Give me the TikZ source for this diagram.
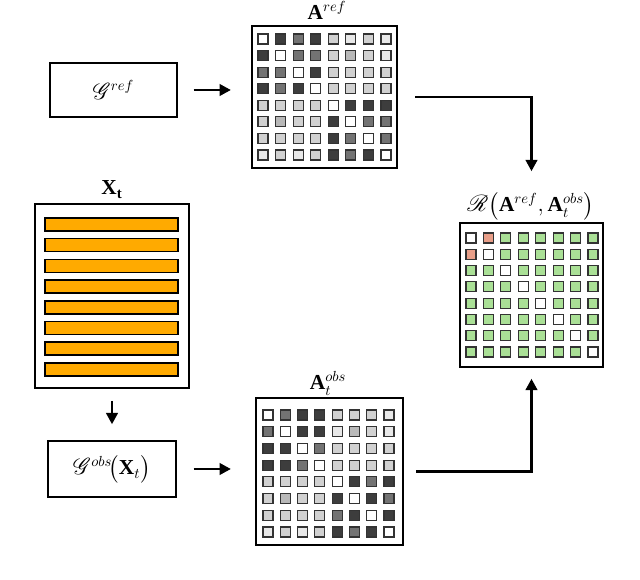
\documentclass[tikz,border=0pt]{standalone}
\usepackage{amsmath}
\usepackage{mathrsfs}
\usepackage{fontspec}
\setmainfont{Liberation Serif}
\usetikzlibrary{arrows.meta,calc}
\definecolor{cw}{gray}{1}
\definecolor{cv}{gray}{0.91}
\definecolor{cl}{gray}{0.82}
\definecolor{ck}{gray}{0.72}
\definecolor{cm}{gray}{0.45}
\definecolor{cd}{gray}{0.24}
\definecolor{cg}{RGB}{170,224,150}
\definecolor{cs}{RGB}{232,158,136}
\definecolor{orangebar}{RGB}{255,170,0}
\newcommand{\cellgrid}[5]{%
  \foreach \row [count=\i from 0] in {#5} {
    \foreach \v [count=\j from 0] in \row {
      \draw[cell,fill=\v] ({#1+\j*#3},{#2+\i*#4}) rectangle +(10,10);
    }
  }}
\begin{document}
\begin{tikzpicture}[x=0.75pt,y=-0.75pt,
  arr/.style={line width=2.2pt,-{Triangle[length=8.5pt,width=8.5pt]}},
  gbox/.style={draw,line width=1pt,inner sep=0,font=\fontsize{16}{19}\selectfont},
  mat/.style={draw,line width=1.6pt,inner sep=0},
  cell/.style={draw=black!80,line width=0.9pt},
  lbl/.style={inner sep=0,font=\fontsize{16}{19}\selectfont},
  bar/.style={draw,line width=1.1pt,fill=orangebar}]
\useasboundingbox (0,0) rectangle (640,580);

% boxes
\node[gbox,minimum width=95.25pt,minimum height=40.5pt] (gref) at (113.5,90) {$\mathscr{G}^{ref}$};
\node[gbox,minimum width=96pt,minimum height=42pt] (gobs) at (112,469) {$\mathscr{G}^{obs}\!\big(\mathbf{X}_t\big)$};
\node[draw,line width=1.2pt,inner sep=0,minimum width=115.5pt,minimum height=138pt] (xt) at (112,296) {};
\node[mat,minimum width=108.75pt,minimum height=106.5pt] (aref) at (324.5,97) {};
\node[mat,minimum width=107.25pt,minimum height=108pt] (rmat) at (531.5,295) {};
\node[mat,minimum width=110.25pt,minimum height=110.25pt] (aobs) at (329.5,471.5) {};

% labels
\node[lbl,anchor=base] (lref) at (327,20) {$\mathbf{A}^{ref}$};
\node[lbl,anchor=base] (lr) at (531,212) {$\mathscr{R}\big(\mathbf{A}^{ref},\mathbf{A}_t^{obs}\big)$};
\node[lbl,anchor=base] (lobs) at (328,390) {$\mathbf{A}_t^{obs}$};
\node[lbl,anchor=base] (lxt) at (112,195) {$\mathbf{X}_\mathbf{t}$};

% bars of X_t
\foreach \k in {0,...,7} {
  \draw[bar] (45,{218+\k*20.7}) rectangle (178,{231+\k*20.7});
}

% cells
\cellgrid{258}{34}{17.57}{16.57}{
 {cw,cd,cm,cd,cl,cv,cl,cv},
 {cd,cw,cm,cm,cl,ck,cl,cv},
 {cm,cm,cw,cd,cl,cl,cl,cl},
 {cd,cm,cd,cw,cl,cl,cl,cl},
 {cl,cl,cl,cl,cw,cd,cd,cd},
 {cl,ck,cl,cl,cd,cw,cm,cm},
 {cl,cl,cl,cl,cd,cm,cw,cm},
 {cv,cl,cv,cl,cd,cm,cd,cw}}
\cellgrid{466}{233}{17.43}{16.29}{
 {cw,cs,cg,cg,cg,cg,cg,cg},
 {cs,cw,cg,cg,cg,cg,cg,cg},
 {cg,cg,cw,cg,cg,cg,cg,cg},
 {cg,cg,cg,cw,cg,cg,cg,cg},
 {cg,cg,cg,cg,cw,cg,cg,cg},
 {cg,cg,cg,cg,cg,cw,cg,cg},
 {cg,cg,cg,cg,cg,cg,cw,cg},
 {cg,cg,cg,cg,cg,cg,cg,cw}}
\cellgrid{263}{410}{17.29}{16.71}{
 {cw,cm,cd,cd,cl,cl,cl,cv},
 {cm,cw,cd,cd,cv,ck,cl,cv},
 {cd,cd,cw,cm,cl,cl,cl,cl},
 {cd,cd,cm,cw,cl,cl,cl,cl},
 {cl,cl,cl,cl,cw,cd,cm,cd},
 {cl,ck,cl,cl,cd,cw,cd,cm},
 {cl,cl,cl,cl,cm,cd,cw,cd},
 {cv,cl,cv,cl,cd,cm,cd,cw}}

% connectors
\draw[arr,shorten <=12pt,shorten >=15pt] (gref.east) -- (gref.east -| aref.west);
\draw[arr,shorten <=9pt,shorten >=12pt] (xt.south) -- (gobs.north);
\draw[arr,shorten <=12.75pt,shorten >=18pt] (gobs.east) -- (gobs.east -| aobs.west);
\draw[arr,shorten <=13pt,shorten >=38pt] (aref.east) -| (rmat.north);
\draw[arr,shorten <=9pt,shorten >=8pt] (aobs.east) -| (rmat.south);
\end{tikzpicture}
\end{document}
